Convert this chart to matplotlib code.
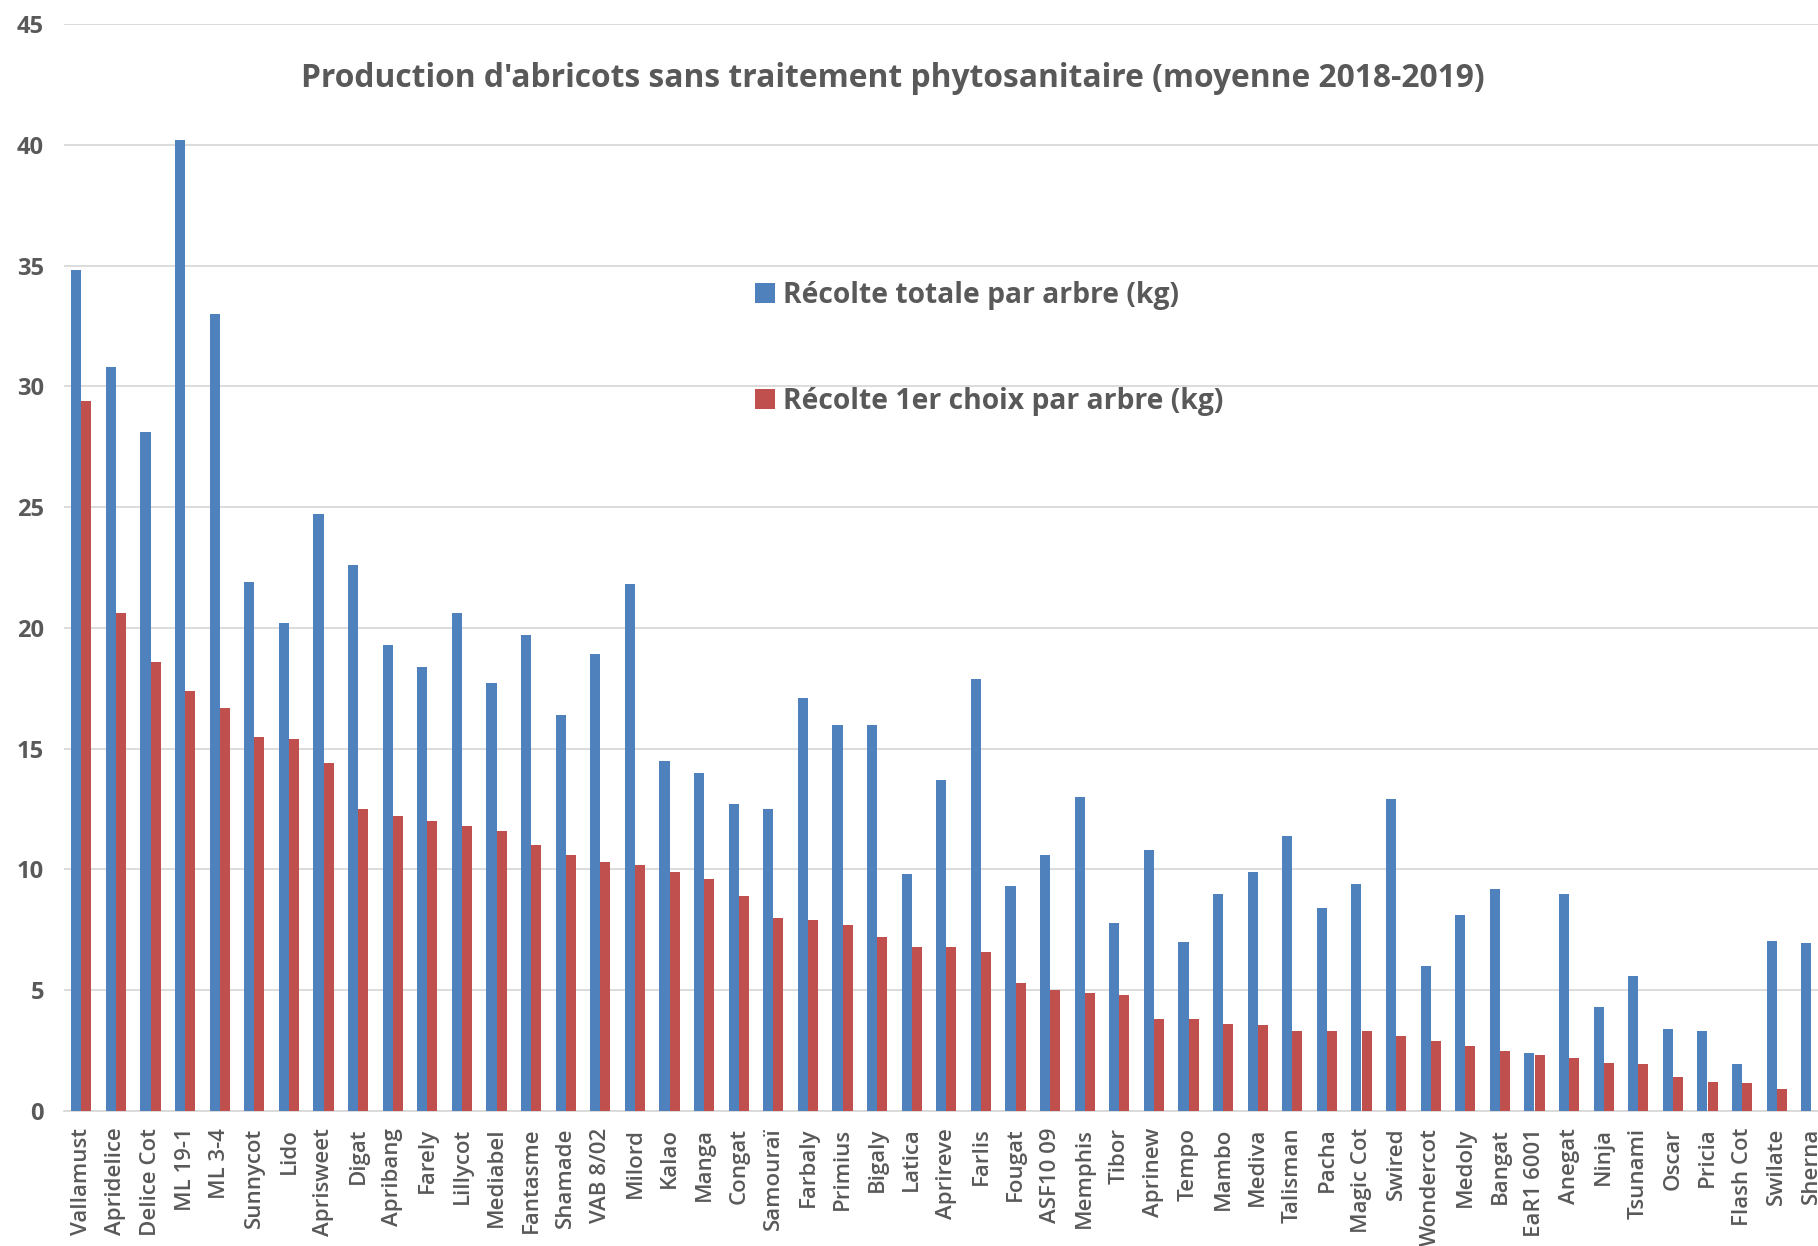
import numpy as np
import matplotlib.pyplot as plt

plt.rcParams['font.family'] = 'Open Sans'

varieties = ['Vallamust', 'Apridelice', 'Delice Cot', 'ML 19-1', 'ML 3-4', 'Sunnycot', 'Lido',
             'Aprisweet', 'Digat', 'Apribang', 'Farely', 'Lillycot', 'Mediabel', 'Fantasme',
             'Shamade', 'VAB 8/02', 'Milord', 'Kalao', 'Manga', 'Congat', 'Samouraï', 'Farbaly',
             'Primius', 'Bigaly', 'Latica', 'Aprireve', 'Farlis', 'Fougat', 'ASF10 09', 'Memphis',
             'Tibor', 'Aprinew', 'Tempo', 'Mambo', 'Mediva', 'Talisman', 'Pacha', 'Magic Cot',
             'Swired', 'Wondercot', 'Medoly', 'Bangat', 'EaR1 6001', 'Anegat', 'Ninja', 'Tsunami',
             'Oscar', 'Pricia', 'Flash Cot', 'Swilate', 'Sherna']

total = [34.8, 30.8, 28.1, 40.2, 33.0, 21.9, 20.2, 24.7, 22.6, 19.3, 18.4, 20.6, 17.7, 19.7,
         16.4, 18.9, 21.8, 14.5, 14.0, 12.7, 12.5, 17.1, 16.0, 16.0, 9.8, 13.7, 17.9, 9.3,
         10.6, 13.0, 7.8, 10.8, 7.0, 9.0, 9.9, 11.4, 8.4, 9.4, 12.9, 6.0, 8.1, 9.2, 2.4,
         9.0, 4.3, 5.6, 3.4, 3.3, 1.95, 7.05, 6.95]

premier_choix = [29.4, 20.6, 18.6, 17.4, 16.7, 15.5, 15.4, 14.4, 12.5, 12.2, 12.0, 11.8, 11.6,
                 11.0, 10.6, 10.3, 10.2, 9.9, 9.6, 8.9, 8.0, 7.9, 7.7, 7.2, 6.8, 6.8, 6.6, 5.3,
                 5.0, 4.9, 4.8, 3.8, 3.8, 3.6, 3.55, 3.3, 3.3, 3.3, 3.1, 2.9, 2.7, 2.5, 2.3,
                 2.2, 2.0, 1.95, 1.4, 1.2, 1.15, 0.9, 0.0]

grey = '#595959'
x = np.arange(len(varieties))
w = 0.29

fig = plt.figure(figsize=(18.18, 12.46), dpi=100)
# plot area runs slightly past the right edge, as in the cropped original
ax = fig.add_axes([64 / 1818, 135 / 1246, 51 * 34.6 / 1818, 1087 / 1246])

ax.bar(x - w / 2, total, w, color='#4F81BD', label='Récolte totale par arbre (kg)', zorder=3)
ax.bar(x + w / 2, premier_choix, w, color='#C0504D', label='Récolte 1er choix par arbre (kg)', zorder=3)

ax.set_xlim(-0.5, len(varieties) - 0.5)
ax.set_ylim(0, 45)
ax.set_yticks(np.arange(0, 46, 5))
ax.set_xticks(x)
ax.set_xticklabels(varieties, rotation=90, fontsize=16, fontweight='semibold', color=grey)
ax.tick_params(axis='x', length=0, pad=12)
ax.tick_params(axis='y', length=0, pad=14.5, labelsize=17, labelcolor=grey)
for lab in ax.get_yticklabels():
    lab.set_fontweight('bold')

ax.grid(axis='y', color='#D9D9D9', lw=1.3, zorder=0)
for side in ['top', 'right', 'left']:
    ax.spines[side].set_visible(False)
ax.spines['bottom'].set_color('#D9D9D9')
ax.spines['bottom'].set_linewidth(1.3)

fig.text(0.491, 0.937, "Production d'abricots sans traitement phytosanitaire (moyenne 2018-2019)",
         ha='center', va='center', fontsize=22.9, fontweight='bold', color=grey)

leg = ax.legend(loc='upper left', bbox_to_anchor=(741 / 1818, 1 - 267 / 1246),
                bbox_transform=fig.transFigure, frameon=False, fontsize=20.3,
                handlelength=0.7, handleheight=0.7, handletextpad=0.3,
                labelspacing=2.72, borderpad=0)
for t in leg.get_texts():
    t.set_color(grey)
    t.set_fontweight('bold')

fig.savefig('out.png', dpi=100, facecolor='white')
